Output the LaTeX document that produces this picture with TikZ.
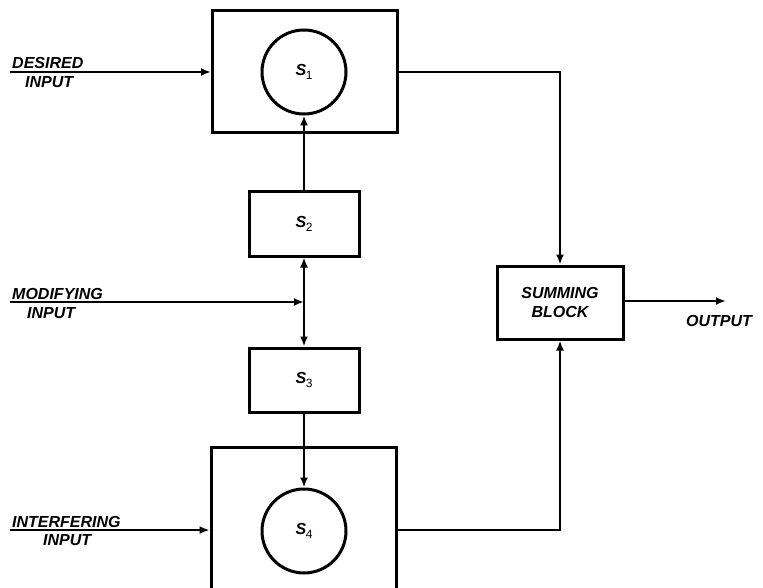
\documentclass[tikz,border=0pt]{standalone}
\usepackage{fontspec}
\setmainfont{Liberation Sans}
\usetikzlibrary{arrows.meta,positioning}
\tikzset{
  bigbox/.style={draw, line width=3pt, minimum width=185pt, inner sep=0pt},
  smallbox/.style={draw, line width=3pt, minimum width=110pt, minimum height=64pt, inner sep=0pt, font=\fontsize{16}{18}\selectfont\bfseries\itshape},
  sumbox/.style={draw, line width=3pt, minimum width=126pt, minimum height=73pt, inner sep=0pt, align=center, font=\fontsize{16}{18.5}\selectfont\bfseries\itshape},
  circ/.style={draw, circle, line width=3pt, minimum size=84pt, inner sep=0pt, font=\fontsize{16}{18}\selectfont\bfseries\itshape},
  lbl/.style={inner sep=0pt, anchor=base west, font=\fontsize{16}{18}\selectfont\bfseries\itshape},
  conn/.style={line width=2.3pt},
  arr/.style={conn, -{Latex[length=10pt,width=8pt]}},
}
\newcommand{\sub}[1]{S\kern-0.5pt\raisebox{-0.4ex}{\fontsize{12}{12}\selectfont\mdseries\upshape #1}}
\begin{document}
\begin{tikzpicture}[x=1pt,y=-1pt]
\clip (0,0) rectangle (763,588);
\fill[white] (0,0) rectangle (763,588);
% blocks
\node[bigbox, minimum height=122pt] (top) at (305,72) {};
\node[circ] (s1) at (304,72) {\sub{1}};
\node[smallbox] (s2) at (304,224) {\sub{2}};
\node[smallbox] (s3) at (304,380) {\sub{3}};
\node[bigbox, minimum height=166pt] (bot) at (303.5,530) {};
\node[circ] (s4) at (304,531) {\sub{4}};
\node[sumbox] (sum) at (560,302.5) {SUMMING\\BLOCK};
% input start points
\coordinate (din) at (10,72);
\coordinate (min) at (10,302);
\coordinate (iin) at (10,530);
\coordinate (mj) at (304,302);
\coordinate (out) at (726,301);
% labels
\node[lbl] (ldes) at (12,69) {DESIRED};
\node[lbl] (ldesi) at (25,88) {INPUT};
\node[lbl] (lmod) at (12,299) {MODIFYING};
\node[lbl] (lmodi) at (27,318) {INPUT};
\node[lbl] (lint) at (12,527) {INTERFERING};
\node[lbl] (linti) at (43,545) {INPUT};
\node[lbl] (lout) at (686,326) {OUTPUT};
% connectors
\draw[arr] (din) -- (din -| top.west);
\draw[arr] (min) -- (mj);
\draw[arr] (iin) -- (iin -| bot.west);
\draw[arr] (s2.north) -- (s1.south);
\draw[conn, {Latex[length=10pt,width=8pt]}-{Latex[length=10pt,width=8pt]}] (s2.south) -- (s3.north);
\draw[arr] (s3.south) -- (s4.north);
\draw[arr] (top.east |- s1) -| (sum.north);
\draw[arr] (bot.east |- iin) -| (sum.south);
\draw[arr] (sum.east |- out) -- (out);
\end{tikzpicture}
\end{document}
